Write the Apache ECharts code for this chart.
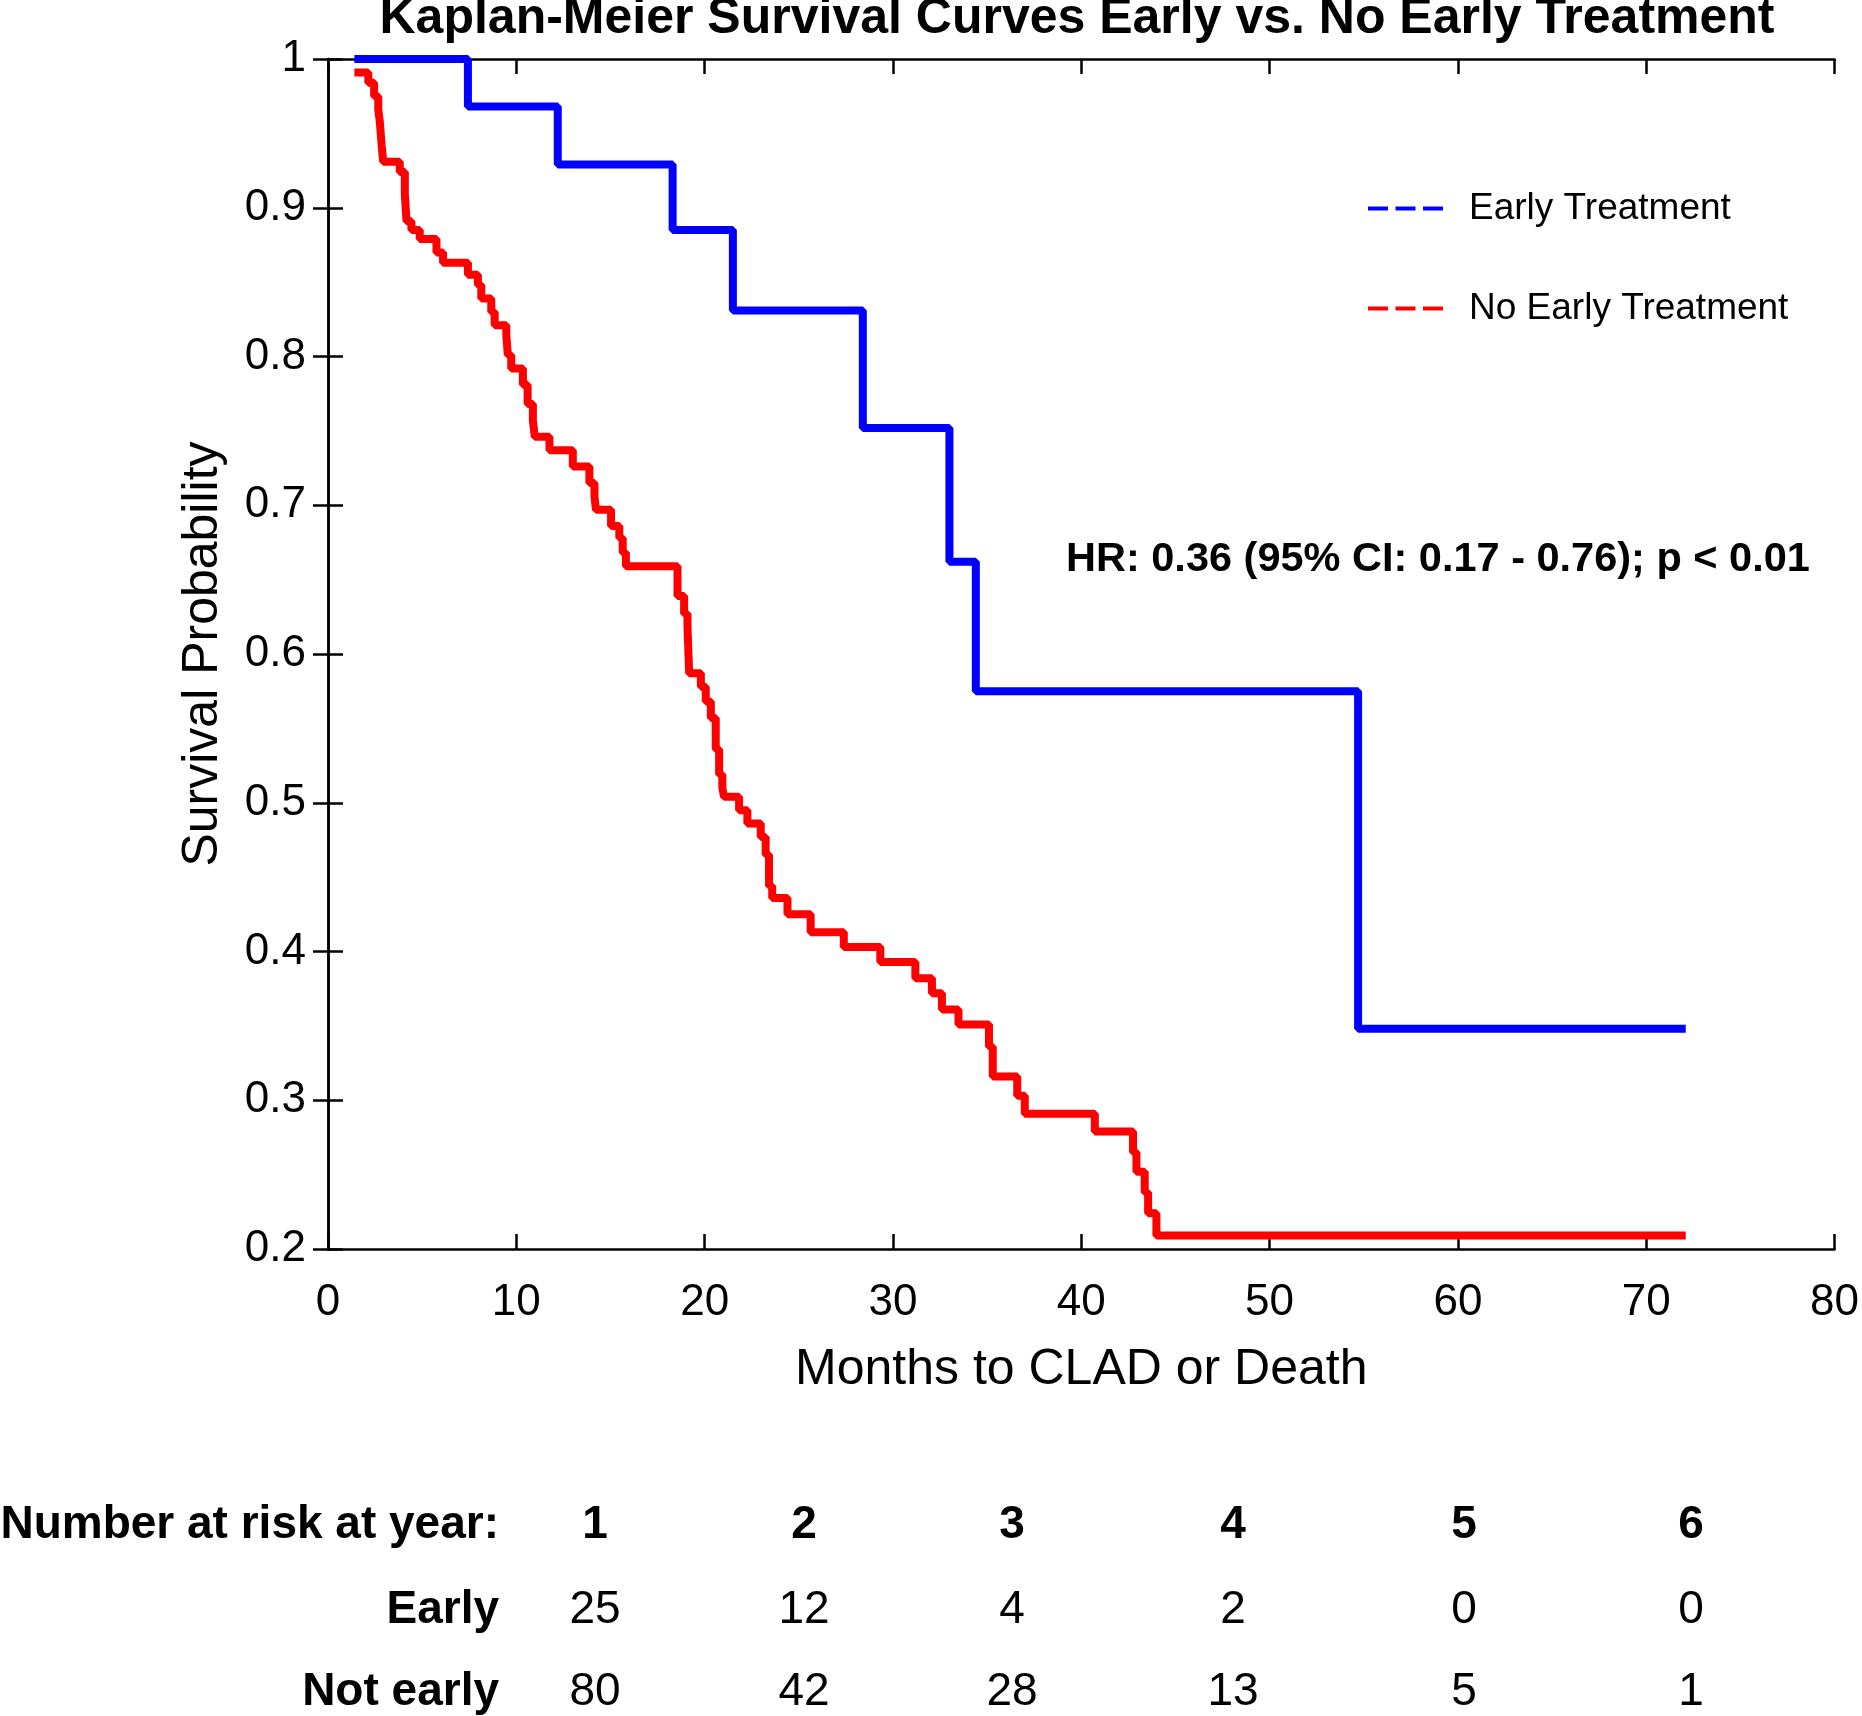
<!DOCTYPE html>
<html><head><meta charset="utf-8">
<script src="https://cdn.jsdelivr.net/npm/echarts@6/dist/echarts.min.js"></script>
<style>html,body{margin:0;padding:0;background:#fff}#c{width:1862px;height:1716px}</style>
</head><body><div id="c"></div>
<script>
// ---- data ----
const titleText = 'Kaplan-Meier Survival Curves Early vs. No Early Treatment';
const seriesNames = ['Early Treatment', 'No Early Treatment'];
const earlyTimes = [1.4, 7.43, 12.2, 18.3, 21.5, 28.4, 33.0, 34.4, 54.7, 72.1];
const earlySurv  = [1.0, 0.968, 0.929, 0.885, 0.831, 0.752, 0.662, 0.575, 0.348, 0.348];
const noEarlyTimes = [1.4, 2.14, 2.45, 2.67, 2.75, 2.85, 2.93, 3.81, 4.08, 4.17, 4.43, 4.87, 5.76, 6.11,
  7.43, 7.96, 8.14, 8.67, 8.85, 9.47, 9.55, 9.73, 10.35, 10.6, 10.88, 10.98, 11.76, 13.0, 13.88, 14.15, 14.23,
  15.03, 15.47, 15.65, 15.82, 18.56, 18.91, 19.09, 19.18, 19.8, 20.06, 20.33, 20.59, 20.77, 20.94, 21.03,
  21.83, 22.27, 22.98, 23.24, 23.42, 23.59, 24.4, 25.63, 27.39, 29.33, 31.19, 32.07, 32.6, 33.48, 35.1,
  35.3, 36.6, 37.0, 40.72, 42.75, 42.93, 43.37, 43.55, 43.99, 72.1];
const noEarlySurv = [0.991, 0.984, 0.975, 0.966, 0.958, 0.942, 0.931, 0.924, 0.909, 0.891, 0.885, 0.879, 0.870, 0.863,
  0.855, 0.848, 0.839, 0.830, 0.821, 0.814, 0.801, 0.792, 0.781, 0.768, 0.757, 0.746, 0.737, 0.726, 0.715, 0.706, 0.697,
  0.686, 0.678, 0.668, 0.659, 0.639, 0.627, 0.618, 0.587, 0.578, 0.568, 0.557, 0.536, 0.519, 0.510, 0.504,
  0.495, 0.486, 0.477, 0.465, 0.444, 0.436, 0.425, 0.413, 0.403, 0.393, 0.382, 0.372, 0.361, 0.351, 0.336,
  0.316, 0.303, 0.291, 0.279, 0.265, 0.252, 0.238, 0.224, 0.209, 0.209];
const hrText = 'HR: 0.36 (95% CI: 0.17 - 0.76); p < 0.01';
const riskHeader = 'Number at risk at year:';
const riskRowLabels = ['Early', 'Not early'];
const riskYears = [1, 2, 3, 4, 5, 6];
const riskEarly = [25, 12, 4, 2, 0, 0];
const riskNotEarly = [80, 42, 28, 13, 5, 1];

// ---- layout ----
const FF = '"Liberation Sans", Arial, sans-serif';
const colX = [595, 804, 1012, 1233, 1464, 1691];
const rowY = [1525, 1610, 1692];
const labelRight = 499;

const chart = echarts.init(document.getElementById('c'), null, {renderer: 'canvas'});

const axisLineStyle = {color: '#000', width: 2.5};
const tickStyle = {show: true, inside: true, length: 15, lineStyle: {color: '#000', width: 2.5}};

const graphics = [];
graphics.push({type: 'text', x: 1066, y: 560,
  style: {text: hrText, font: 'bold 41.5px ' + FF, fill: '#000', textAlign: 'left', textVerticalAlign: 'middle'}});
graphics.push({type: 'text', x: labelRight, y: rowY[0],
  style: {text: riskHeader, font: 'bold 46px ' + FF, fill: '#000', textAlign: 'right', textVerticalAlign: 'middle'}});
riskRowLabels.forEach((lab, i) => graphics.push({type: 'text', x: labelRight, y: rowY[i + 1],
  style: {text: lab, font: 'bold 46px ' + FF, fill: '#000', textAlign: 'right', textVerticalAlign: 'middle'}}));
riskYears.forEach((yr, i) => {
  graphics.push({type: 'text', x: colX[i], y: rowY[0],
    style: {text: String(yr), font: 'bold 46px ' + FF, fill: '#000', textAlign: 'center', textVerticalAlign: 'middle'}});
  graphics.push({type: 'text', x: colX[i], y: rowY[1],
    style: {text: String(riskEarly[i]), font: '46px ' + FF, fill: '#000', textAlign: 'center', textVerticalAlign: 'middle'}});
  graphics.push({type: 'text', x: colX[i], y: rowY[2],
    style: {text: String(riskNotEarly[i]), font: '46px ' + FF, fill: '#000', textAlign: 'center', textVerticalAlign: 'middle'}});
});

chart.setOption({
  animation: false,
  backgroundColor: '#fff',
  textStyle: {fontFamily: FF},
  title: {text: titleText, left: 1077, textAlign: 'center', top: -6, padding: 0,
    textStyle: {fontSize: 50, fontWeight: 'bold', color: '#000', fontFamily: FF}},
  legend: {
    orient: 'vertical', left: 1366, top: 190, padding: 0,
    itemWidth: 77, itemHeight: 14, itemGap: 63,
    data: seriesNames,
    itemStyle: {opacity: 0},
    lineStyle: {type: [20, 7.5], width: 4},
    textStyle: {fontSize: 37, color: '#000', fontFamily: FF, lineHeight: 37, padding: [0, 0, 0, 19]}
  },
  grid: {left: 328, top: 59, width: 1510, height: 1190, containLabel: false},
  xAxis: [
    {type: 'value', min: 0, max: 80, interval: 10, position: 'bottom',
      axisLine: {show: true, lineStyle: axisLineStyle}, axisTick: tickStyle, splitLine: {show: false},
      axisLabel: {fontSize: 44, color: '#000', margin: 32, fontFamily: FF},
      name: 'Months to CLAD or Death', nameLocation: 'middle', nameGap: 96,
      nameTextStyle: {fontSize: 50, color: '#000', fontFamily: FF}},
    {type: 'value', min: 0, max: 80, interval: 10, position: 'top',
      axisLine: {show: true, lineStyle: axisLineStyle}, axisTick: tickStyle, splitLine: {show: false},
      axisLabel: {show: false}}
  ],
  yAxis: [
    {type: 'value', min: 0.2, max: 1, interval: 0.1, position: 'left',
      axisLine: {show: true, lineStyle: axisLineStyle}, axisTick: tickStyle, splitLine: {show: false},
      axisLabel: {fontSize: 44, color: '#000', margin: 22, fontFamily: FF},
      name: 'Survival Probability', nameLocation: 'middle', nameGap: 100,
      nameTextStyle: {fontSize: 50, color: '#000', fontFamily: FF}},
    {type: 'value', min: 0.2, max: 1, interval: 0.1, position: 'right',
      axisLine: {show: true, lineStyle: axisLineStyle}, axisTick: tickStyle, splitLine: {show: false},
      axisLabel: {show: false}}
  ],
  series: [
    {name: seriesNames[0], type: 'line', step: 'end', symbol: 'none', clip: false, z: 3,
      color: '#0000FF', lineStyle: {color: '#0000FF', width: 8},
      data: earlyTimes.map((t, i) => [t, earlySurv[i]])},
    {name: seriesNames[1], type: 'line', step: 'end', symbol: 'none', clip: false, z: 3,
      color: '#FF0000', lineStyle: {color: '#FF0000', width: 8},
      data: noEarlyTimes.map((t, i) => [t, noEarlySurv[i]])}
  ],
  graphic: graphics
});
</script>
</body></html>
